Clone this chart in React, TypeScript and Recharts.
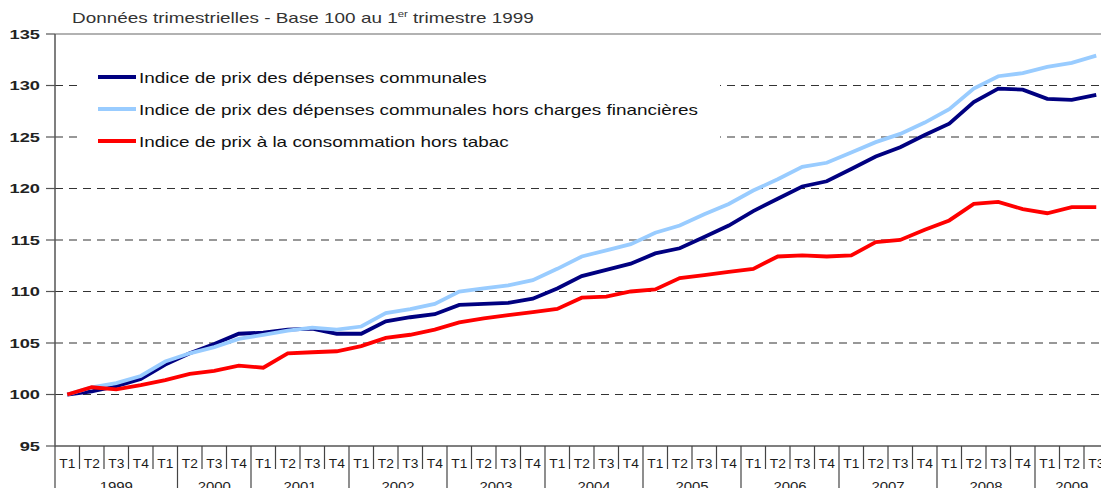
import React from "react"
import {
  LineChart,
  Line,
  XAxis,
  YAxis,
  Legend,
  ReferenceLine,
} from "recharts"

// T1 1999 .. T3 2009
const quarterLabels = [
  "T1", "T2", "T3", "T4",
  "T1", "T2", "T3", "T4",
  "T1", "T2", "T3", "T4",
  "T1", "T2", "T3", "T4",
  "T1", "T2", "T3", "T4",
  "T1", "T2", "T3", "T4",
  "T1", "T2", "T3", "T4",
  "T1", "T2", "T3", "T4",
  "T1", "T2", "T3", "T4",
  "T1", "T2", "T3", "T4",
  "T1", "T2", "T3",
]

const yearLabels = ["1999", "2000", "2001", "2002", "2003", "2004", "2005", "2006", "2007", "2008", "2009"]
// index of the first quarter under each year label (as in the source chart)
const yearStarts = [0, 5, 8, 12, 16, 20, 24, 28, 32, 36, 40]

const depensesCommunales = [
  100, 100.3, 100.8, 101.5, 102.9, 104.0, 104.9, 105.9,
  106.0, 106.3, 106.4, 105.9, 105.9, 107.1, 107.5, 107.8,
  108.7, 108.8, 108.9, 109.3, 110.3, 111.5, 112.1, 112.7,
  113.7, 114.2, 115.3, 116.4, 117.8, 119.0, 120.2, 120.7,
  121.9, 123.1, 124.0, 125.2, 126.3, 128.4, 129.7, 129.6,
  128.7, 128.6, 129.1,
]

const horsChargesFinancieres = [
  100, 100.7, 101.1, 101.8, 103.2, 104.0, 104.6, 105.4,
  105.8, 106.2, 106.5, 106.3, 106.6, 107.9, 108.3, 108.8,
  110.0, 110.3, 110.6, 111.1, 112.2, 113.4, 114.0, 114.6,
  115.7, 116.4, 117.5, 118.5, 119.8, 120.9, 122.1, 122.5,
  123.5, 124.5, 125.3, 126.4, 127.7, 129.7, 130.9, 131.2,
  131.8, 132.2, 132.9,
]

const consommationHorsTabac = [
  100, 100.7, 100.5, 100.9, 101.4, 102.0, 102.3, 102.8,
  102.6, 104.0, 104.1, 104.2, 104.7, 105.5, 105.8, 106.3,
  107.0, 107.4, 107.7, 108.0, 108.3, 109.4, 109.5, 110.0,
  110.2, 111.3, 111.6, 111.9, 112.2, 113.4, 113.5, 113.4,
  113.5, 114.8, 115.0, 116.0, 116.9, 118.5, 118.7, 118.0,
  117.6, 118.2, 118.2,
]

const yTicks = [95, 100, 105, 110, 115, 120, 125, 130, 135]
const gridValues = [100, 105, 110, 115, 120, 125, 130]

const data = quarterLabels.map((q, i) => ({
  id: i,
  q,
  communales: depensesCommunales[i],
  horsCharges: horsChargesFinancieres[i],
  ipc: consommationHorsTabac[i],
}))

const CHART_W = 1112
const CHART_H = 488
const AXIS_W = 55
const RIGHT = 3.5
const STEP = (CHART_W - AXIS_W - RIGHT) / quarterLabels.length
const FONT = "Arial, 'Liberation Sans', sans-serif"
// the source image is stretched horizontally, so the text is too
const STRETCH = 1.26

function QuarterTick(props: any) {
  const { x, y, index } = props
  const left = x - STEP / 2
  const g = yearStarts.indexOf(index)
  const isStart = g >= 0
  const end = g >= 0 ? (yearStarts[g + 1] ?? quarterLabels.length) : 0
  return (
    <g>
      <line x1={left} x2={left} y1={y} y2={isStart ? y + 44 : y + 23} stroke="#444" strokeWidth={1.2} />
      <text
        transform={`translate(${x},${y + 22}) scale(1.1,1)`}
        textAnchor="middle"
        fontSize={12.5}
        fill="#1a1a1a"
        fontFamily={FONT}
      >
        {quarterLabels[index]}
      </text>
      {isStart && (
        <text
          transform={`translate(${left + ((end - index) * STEP) / 2},${y + 45}) scale(1.15,1)`}
          textAnchor="middle"
          fontSize={13}
          fill="#222"
          fontFamily={FONT}
        >
          {yearLabels[g]}
        </text>
      )}
    </g>
  )
}

function ValueTick(props: any) {
  const { x, y, payload } = props
  return (
    <text
      transform={`translate(${x},${y}) scale(1.35,1)`}
      textAnchor="end"
      dy="0.36em"
      fontSize={13.5}
      fontWeight="bold"
      fill="#222"
      fontFamily={FONT}
    >
      {payload.value}
    </text>
  )
}

function LegendBox({ payload }: any) {
  return (
    <div style={{ background: "#fff", padding: "9px 0 8px 20px", fontFamily: FONT }}>
      {(payload || []).map((p: any) => (
        <div key={p.value} style={{ display: "flex", alignItems: "center", height: 32 }}>
          <span style={{ display: "inline-block", width: 38, height: 4, background: p.color, marginRight: 3 }} />
          <span
            style={{
              display: "inline-block",
              fontSize: 15,
              color: "#111",
              whiteSpace: "nowrap",
              transform: `scaleX(${STRETCH})`,
              transformOrigin: "left center",
            }}
          >
            {p.value}
          </span>
        </div>
      ))}
    </div>
  )
}

export default function App() {
  return (
    <div
      style={{
        position: "absolute",
        left: 0,
        top: 0,
        width: 1101,
        height: 488,
        overflow: "hidden",
        background: "#fff",
        fontFamily: FONT,
      }}
    >
      <div
        style={{
          position: "absolute",
          left: 72,
          top: 9,
          fontSize: 15,
          color: "#333",
          whiteSpace: "nowrap",
          transform: `scaleX(${STRETCH})`,
          transformOrigin: "left center",
        }}
      >
        Données trimestrielles - Base 100 au 1<sup style={{ fontSize: 9 }}>er</sup> trimestre 1999
      </div>
      <LineChart
        width={CHART_W}
        height={CHART_H}
        data={data}
        margin={{ top: 34, right: RIGHT, bottom: 0, left: 0 }}
      >
        <XAxis
          dataKey="id"
          type="category"
          interval={0}
          height={42}
          tickLine={false}
          tickSize={0}
          tickMargin={0}
          axisLine={{ stroke: "#555", strokeWidth: 1.5 }}
          padding={{ left: STEP / 2, right: STEP / 2 }}
          tick={<QuarterTick />}
        />
        <YAxis
          width={AXIS_W}
          domain={[95, 135]}
          ticks={yTicks}
          interval={0}
          tickSize={9}
          tickMargin={6}
          axisLine={{ stroke: "#555", strokeWidth: 1.5 }}
          tickLine={{ stroke: "#555", strokeWidth: 1.2 }}
          tick={<ValueTick />}
        />
        {gridValues.map((v) => (
          <ReferenceLine key={v} y={v} stroke="#333" strokeDasharray="8 6" strokeWidth={1.2} />
        ))}
        <ReferenceLine y={135} stroke="#999" strokeWidth={1.5} />
        <Legend
          layout="vertical"
          align="center"
          verticalAlign="middle"
          content={<LegendBox />}
          wrapperStyle={{ left: 78, top: 52, width: 642 }}
        />
        <Line
          name="Indice de prix des dépenses communales"
          dataKey="communales"
          type="linear"
          stroke="#000080"
          strokeWidth={3.8}
          dot={false}
          isAnimationActive={false}
        />
        <Line
          name="Indice de prix des dépenses communales hors charges financières"
          dataKey="horsCharges"
          type="linear"
          stroke="#99CCFF"
          strokeWidth={3.8}
          dot={false}
          isAnimationActive={false}
        />
        <Line
          name="Indice de prix à la consommation hors tabac"
          dataKey="ipc"
          type="linear"
          stroke="#FF0000"
          strokeWidth={3.8}
          dot={false}
          isAnimationActive={false}
        />
      </LineChart>
    </div>
  )
}
